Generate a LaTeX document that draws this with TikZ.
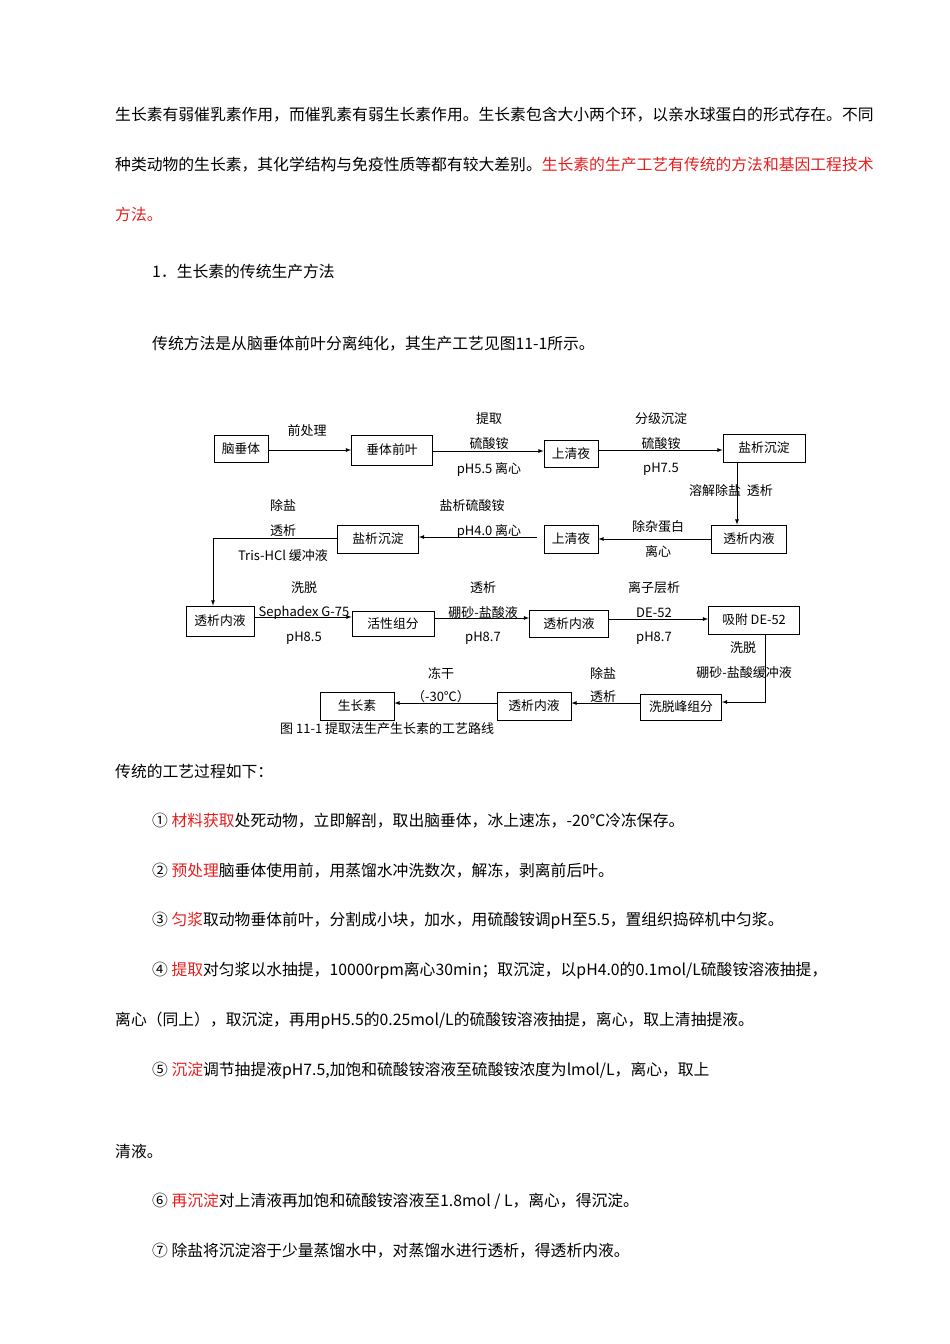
\documentclass[tikz,border=0pt]{standalone}
\usepackage{fontspec}
\setmainfont{Liberation Serif}
\newfontfamily\cjk{Noto Sans CJK SC}
\begin{document}
\begin{tikzpicture}[x=1pt,y=-1pt,
  bx/.style={draw,thick,inner sep=0pt,font=\cjk\fontsize{12.8}{13}\selectfont},
  lb/.style={font=\fontsize{13}{13}\selectfont\cjk,inner sep=0pt},
  tx/.style={anchor=west,font=\fontsize{15.8}{16}\selectfont\cjk,inner sep=0pt},
  ar/.style={thick,-latex}]
\useasboundingbox (0,0) rectangle (950,1344);
\definecolor{rd}{RGB}{230,30,30}
% body text
\node[tx] (t1) at (115,115) {生长素有弱催乳素作用，而催乳素有弱生长素作用。生长素包含大小两个环，以亲水球蛋白的形式存在。不同};
\node[tx] (t2) at (115,165) {种类动物的生长素，其化学结构与免疫性质等都有较大差别。\textcolor{rd}{生长素的生产工艺有传统的方法和基因工程技术}};
\node[tx] (t3) at (115,214) {\textcolor{rd}{方法。}};
\node[tx] (t4) at (152,271) {1．生长素的传统生产方法};
\node[tx] (t5) at (152,344) {传统方法是从脑垂体前叶分离纯化，其生产工艺见图11-1所示。};
\node[tx] (t6) at (115,771) {传统的工艺过程如下：};
\node[tx] (t7) at (152,821) {① \textcolor{rd}{材料获取}处死动物，立即解剖，取出脑垂体，冰上速冻，-20℃冷冻保存。};
\node[tx] (t8) at (152,871) {② \textcolor{rd}{预处理}脑垂体使用前，用蒸馏水冲洗数次，解冻，剥离前后叶。};
\node[tx] (t9) at (152,921) {③ \textcolor{rd}{匀浆}取动物垂体前叶，分割成小块，加水，用硫酸铵调pH至5.5，置组织捣碎机中匀浆。};
\node[tx] (t10) at (152,971) {④ \textcolor{rd}{提取}对匀浆以水抽提，10000rpm离心30min；取沉淀，以pH4.0的0.1mol/L硫酸铵溶液抽提，};
\node[tx] (t11) at (115,1021) {离心（同上），取沉淀，再用pH5.5的0.25mol/L的硫酸铵溶液抽提，离心，取上清抽提液。};
\node[tx] (t12) at (152,1071) {⑤ \textcolor{rd}{沉淀}调节抽提液pH7.5,加饱和硫酸铵溶液至硫酸铵浓度为lmol/L，离心，取上};
\node[tx] (t13) at (115,1151) {清液。};
\node[tx] (t14) at (152,1201) {⑥ \textcolor{rd}{再沉淀}对上清液再加饱和硫酸铵溶液至1.8mol / L，离心，得沉淀。};
\node[tx] (t15) at (152,1251) {⑦ 除盐将沉淀溶于少量蒸馏水中，对蒸馏水进行透析，得透析内液。};
% boxes
\node[bx,minimum width=54,minimum height=27] (a1) at (241,449) {脑垂体};
\node[bx,minimum width=81,minimum height=30] (a2) at (392,450) {垂体前叶};
\node[bx,minimum width=54,minimum height=27] (a3) at (571,454) {上清夜};
\node[bx,minimum width=82,minimum height=28] (a4) at (764,448) {盐析沉淀};
\node[bx,minimum width=75,minimum height=28] (b1) at (749,539) {透析内液};
\node[bx,minimum width=54,minimum height=28] (b2) at (571,539) {上清夜};
\node[bx,minimum width=81,minimum height=28] (b3) at (378,539) {盐析沉淀};
\node[bx,minimum width=68,minimum height=30] (c1) at (220,621) {透析内液};
\node[bx,minimum width=82,minimum height=25] (c2) at (393,624) {活性组分};
\node[bx,minimum width=79,minimum height=27] (c3) at (569,624) {透析内液};
\node[bx,minimum width=91,minimum height=28] (c4) at (754,620) {吸附 DE-52};
\node[bx,minimum width=81,minimum height=26] (d1) at (681,707) {洗脱峰组分};
\node[bx,minimum width=74,minimum height=28] (d2) at (534,706) {透析内液};
\node[bx,minimum width=74,minimum height=28] (d3) at (357,706) {生长素};
% arrows
\draw[ar] (a1.east|-0,450) -- (a2.west|-0,450);
\draw[ar] (a2.east|-0,451) -- (a3.west|-0,451);
\draw[ar] (a3.east|-0,450) -- (a4.west|-0,450);
\draw[ar] (a4.south-|737,0) -- (b1.north-|737,0);
\draw[ar] (b1.west) -- (b2.east);
\coordinate (g) at (537,537);
\draw[ar] (g) -- (b3.east|-g);
\coordinate (k) at (213,538);
\draw[ar] (b3.west|-k) -- (k) -- (c1.north-|k);
\draw[ar] (c1.east|-0,617) -- (c2.west|-0,617);
\draw[ar] (c2.east|-0,618) -- (c3.west|-0,618);
\draw[ar] (c3.east|-0,619) -- (c4.west|-0,619);
\coordinate (m) at (765,702);
\draw[ar] (c4.south-|m) -- (m) -- (d1.east|-m);
\draw[ar] (d1.west|-0,703) -- (d2.east|-0,703);
\draw[ar] (d2.west|-0,703) -- (d3.east|-0,703);
% labels
\node[lb] (l1) at (307,431) {前处理};
\node[lb] (l2) at (489,419) {提取};
\node[lb] (l3) at (489,444) {硫酸铵};
\node[lb] (l4) at (489,469) {pH5.5 离心};
\node[lb] (l5) at (661,419) {分级沉淀};
\node[lb] (l6) at (661,444) {硫酸铵};
\node[lb] (l7) at (661,469) {pH7.5};
\node[lb] (l8) at (731,491) {溶解除盐\ \ 透析};
\node[lb] (l9) at (658,527) {除杂蛋白};
\node[lb] (l10) at (658,552) {离心};
\node[lb] (l11) at (472,506) {盐析硫酸铵};
\node[lb] (l12) at (489,531) {pH4.0 离心};
\node[lb] (l13) at (283,506) {除盐};
\node[lb] (l14) at (283,531) {透析};
\node[lb] (l15) at (283,556) {Tris-HCl 缓冲液};
\node[lb] (l16) at (304,588) {洗脱};
\node[lb] (l17) at (304,613) {Sephadex G-75};
\node[lb] (l18) at (304,638) {pH8.5};
\node[lb] (l19) at (483,588) {透析};
\node[lb] (l20) at (483,613) {硼砂-盐酸液};
\node[lb] (l21) at (483,638) {pH8.7};
\node[lb] (l22) at (654,588) {离子层析};
\node[lb] (l23) at (654,613) {DE-52};
\node[lb] (l24) at (654,638) {pH8.7};
\node[lb] (l25) at (743,648) {洗脱};
\node[lb] (l26) at (744,673) {硼砂-盐酸缓冲液};
\node[lb] (l27) at (603,673) {除盐};
\node[lb] (l28) at (603,697) {透析};
\node[lb] (l29) at (441,673) {冻干};
\node[lb] (l30) at (441,697) {（-30℃）};
\node[lb,anchor=west] (cap) at (280,729) {图 11-1 提取法生产生长素的工艺路线};
\end{tikzpicture}
\end{document}
